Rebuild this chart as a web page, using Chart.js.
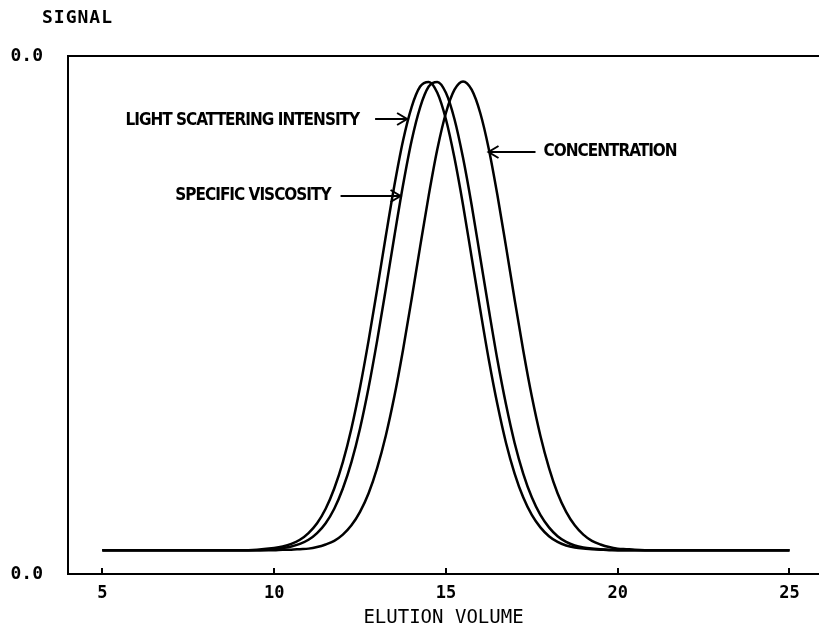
<!DOCTYPE html>
<html>
<head>
<meta charset="utf-8">
<title>Elution profiles</title>
<script src="https://cdn.jsdelivr.net/npm/chart.js@4.4.1/dist/chart.umd.min.js"></script>
<style>
  html, body { margin: 0; padding: 0; background: #fff; overflow: hidden; }
  #wrap { width: 819px; height: 635px; }
</style>
</head>
<body>
<div id="wrap"><canvas id="elution" width="819" height="635"></canvas></div>
<script>
// elution volume grid shared by the three detector traces
const volume = [5, 6, 7, 8, 9, 9.5,
  10, 10.25, 10.5, 10.75, 11, 11.25, 11.5, 11.75, 12, 12.25, 12.5, 12.75,
  13, 13.25, 13.5, 13.75, 14, 14.25, 14.5, 14.75, 15, 15.25, 15.5, 15.75,
  16, 16.25, 16.5, 16.75, 17, 17.25, 17.5, 17.75, 18, 18.25, 18.5, 18.75,
  19, 19.25, 19.5, 19.75, 20, 20.25, 20.5,
  21, 22, 23, 24, 25];

const lightScattering = [0.046, 0.046, 0.046, 0.046, 0.046, 0.047,
  0.050, 0.053, 0.058, 0.066, 0.079, 0.098, 0.126, 0.165, 0.216, 0.281, 0.360, 0.451,
  0.550, 0.652, 0.750, 0.836, 0.901, 0.941, 0.950, 0.929, 0.878, 0.803, 0.712, 0.611,
  0.510, 0.413, 0.327, 0.253, 0.194, 0.148, 0.114, 0.090, 0.073, 0.062, 0.055, 0.051,
  0.049, 0.048, 0.047, 0.046, 0.046, 0.046, 0.046,
  0.046, 0.046, 0.046, 0.046, 0.046];

const specificViscosity = [0.046, 0.046, 0.046, 0.046, 0.046, 0.046,
  0.048, 0.050, 0.053, 0.058, 0.066, 0.079, 0.098, 0.126, 0.165, 0.216, 0.281, 0.360,
  0.451, 0.550, 0.652, 0.750, 0.836, 0.901, 0.941, 0.950, 0.929, 0.878, 0.803, 0.712,
  0.611, 0.510, 0.413, 0.327, 0.253, 0.194, 0.148, 0.114, 0.090, 0.073, 0.062, 0.055,
  0.051, 0.049, 0.048, 0.047, 0.046, 0.046, 0.046,
  0.046, 0.046, 0.046, 0.046, 0.046];

const concentration = [0.046, 0.046, 0.046, 0.046, 0.046, 0.046,
  0.046, 0.047, 0.047, 0.048, 0.049, 0.052, 0.057, 0.064, 0.076, 0.094, 0.120, 0.156,
  0.205, 0.267, 0.343, 0.432, 0.530, 0.632, 0.731, 0.820, 0.890, 0.935, 0.951, 0.935,
  0.890, 0.820, 0.731, 0.632, 0.530, 0.432, 0.343, 0.267, 0.205, 0.156, 0.120, 0.094,
  0.076, 0.064, 0.057, 0.052, 0.049, 0.048, 0.047,
  0.046, 0.046, 0.046, 0.046, 0.046];

const seriesNames = ['LIGHT SCATTERING INTENSITY', 'SPECIFIC VISCOSITY', 'CONCENTRATION'];
const xTicks = [5, 10, 15, 20, 25];
const yTicks = [0, 1];
const yTickLabel = '0.0';

const INK = '#000';
const plotterFont = '"DejaVu Sans Mono", "Liberation Mono", monospace';
const calloutFont = 'bold 17px "DejaVu Sans Condensed", "Liberation Sans", sans-serif';

// callouts: arrow tip sits on the trace (data units); side -1 puts the text on the left
const callouts = [
  { text: seriesNames[0], at: [13.87, 0.878], side: -1, tail: 32, gap: 16, dy: 2 },
  { text: seriesNames[1], at: [13.68, 0.73], side: -1, tail: 60, gap: 10, dy: 0 },
  { text: seriesNames[2], at: [16.24, 0.815], side: 1, tail: 47, gap: 8, dy: 0 }
];

function toPoints(ys) { return volume.map((v, i) => ({ x: v, y: ys[i] })); }

const tracePlugin = {
  id: 'plotterDecor',
  afterDraw(chart) {
    const { ctx, chartArea, scales } = chart;
    const xs = scales.x, ys = scales.y;
    ctx.save();
    ctx.strokeStyle = INK;
    ctx.fillStyle = INK;
    ctx.lineWidth = 2;
    ctx.lineCap = 'butt';

    // top frame line
    ctx.beginPath();
    ctx.moveTo(chartArea.left - 1, chartArea.top);
    ctx.lineTo(chart.width, chartArea.top);
    ctx.stroke();

    // inward tick marks on the volume axis
    ctx.beginPath();
    xTicks.forEach(t => {
      const px = Math.round(xs.getPixelForValue(t));
      ctx.moveTo(px, chartArea.bottom);
      ctx.lineTo(px, chartArea.bottom - 6);
    });
    ctx.stroke();

    // axis caption at top left
    ctx.font = 'bold 18px ' + plotterFont;
    ctx.letterSpacing = '1px';
    ctx.textAlign = 'left';
    ctx.textBaseline = 'middle';
    ctx.fillText('SIGNAL', 42, 18);

    // labelled arrows
    ctx.font = calloutFont;
    ctx.letterSpacing = '-1px';
    callouts.forEach(c => {
      const tipX = xs.getPixelForValue(c.at[0]);
      const tipY = Math.round(ys.getPixelForValue(c.at[1]));
      const tailX = tipX + c.side * c.tail;
      ctx.beginPath();
      ctx.moveTo(tailX, tipY);
      ctx.lineTo(tipX, tipY);
      ctx.moveTo(tipX + c.side * 10, tipY - 6);
      ctx.lineTo(tipX, tipY);
      ctx.lineTo(tipX + c.side * 10, tipY + 6);
      ctx.stroke();
      ctx.textAlign = c.side < 0 ? 'right' : 'left';
      ctx.fillText(c.text, tailX + c.side * c.gap, tipY + c.dy);
    });
    ctx.restore();
  }
};

const lineStyle = {
  borderColor: INK,
  borderWidth: 2.5,
  pointRadius: 0,
  fill: false,
  cubicInterpolationMode: 'monotone'
};

new Chart(document.getElementById('elution'), {
  type: 'line',
  data: {
    datasets: [
      Object.assign({ label: seriesNames[0], data: toPoints(lightScattering) }, lineStyle),
      Object.assign({ label: seriesNames[1], data: toPoints(specificViscosity) }, lineStyle),
      Object.assign({ label: seriesNames[2], data: toPoints(concentration) }, lineStyle)
    ]
  },
  options: {
    responsive: false,
    animation: false,
    devicePixelRatio: 1,
    layout: { padding: { top: 56, right: 0, bottom: 0, left: 0 } },
    plugins: { legend: { display: false }, tooltip: { enabled: false }, title: { display: false } },
    scales: {
      x: {
        type: 'linear',
        min: 4,
        max: 25.86,
        afterBuildTicks: s => { s.ticks = xTicks.map(v => ({ value: v })); },
        afterFit: s => { s.height = 61; },
        grid: { display: false },
        border: { display: true, color: INK, width: 2 },
        ticks: { color: INK, font: { family: plotterFont, size: 17, weight: 'bold' }, padding: 1, maxRotation: 0 },
        title: {
          display: true,
          text: 'ELUTION VOLUME',
          color: INK,
          font: { family: plotterFont, size: 19, weight: 'normal' },
          padding: { top: 0, bottom: 6 }
        }
      },
      y: {
        type: 'linear',
        min: 0,
        max: 1,
        afterBuildTicks: s => { s.ticks = yTicks.map(v => ({ value: v })); },
        afterFit: s => { s.width = 68; },
        grid: { display: false },
        border: { display: true, color: INK, width: 2 },
        ticks: { color: INK, font: { family: plotterFont, size: 18, weight: 'bold' }, padding: 17, callback: () => yTickLabel }
      }
    }
  },
  plugins: [tracePlugin]
});
</script>
</body>
</html>
